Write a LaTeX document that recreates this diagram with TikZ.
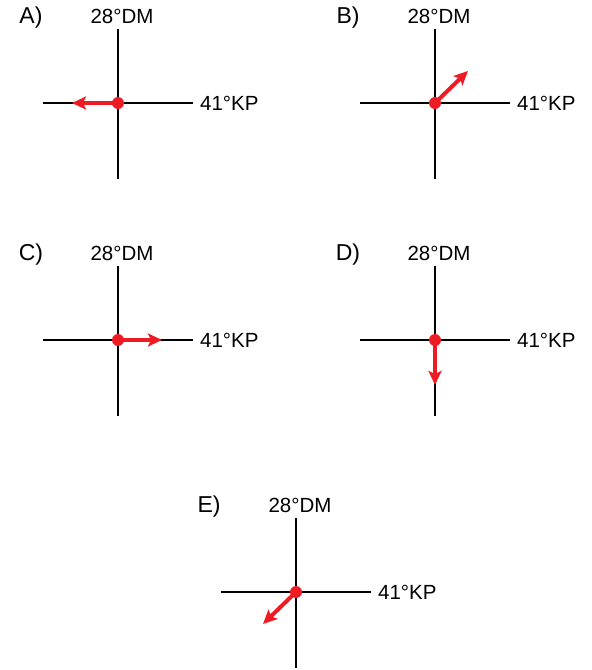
\documentclass[tikz,border=0pt]{standalone}
\usepackage{fontspec}
\setmainfont{Liberation Sans}
\usetikzlibrary{arrows.meta}
\definecolor{arrred}{RGB}{237,28,36}
\tikzset{
 axis/.style={line width=2.4pt, black},
 vec/.style={line width=4pt, arrred, -{Stealth[length=14pt,width=13pt,inset=3pt]}},
 dotc/.style={circle, fill=arrred, inner sep=0pt, minimum size=12pt},
 lbl/.style={font=\fontsize{20.5}{24}\selectfont, inner sep=0pt},
 letter/.style={font=\fontsize{23}{27}\selectfont, inner sep=0pt},
}
\newcommand{\mypanel}[5]{%
 \begin{scope}[shift={(#2,#3)}]
  \coordinate (#1t) at (0,-74); \coordinate (#1b) at (0,76);
  \coordinate (#1l) at (-75,0); \coordinate (#1r) at (75,0);
  \draw[axis] (#1t) -- (#1b);
  \draw[axis] (#1l) -- (#1r);
  \node[lbl] (#1dm) at (4,-87) {28°DM};
  \node[lbl, anchor=west] (#1kp) at (82,0) {41°KP};
  \node[letter] (#1n) at (-87,-85) {#4};
  \node[dotc] (#1c) at (0,0) {};
  \coordinate (#1h) at (#5);
  \draw[vec] (#1c.center) -- (#1h);
 \end{scope}}
\begin{document}
\begin{tikzpicture}[x=1pt,y=-1pt]
\useasboundingbox (0,0) rectangle (592,670);
\mypanel{A}{118}{103}{A)}{-46,0}
\mypanel{B}{435}{103}{B)}{33,-32}
\mypanel{C}{118}{340}{C)}{44,0}
\mypanel{D}{435}{340}{D)}{0,45}
\mypanel{E}{296}{592}{E)}{-33,32}
\end{tikzpicture}
\end{document}
